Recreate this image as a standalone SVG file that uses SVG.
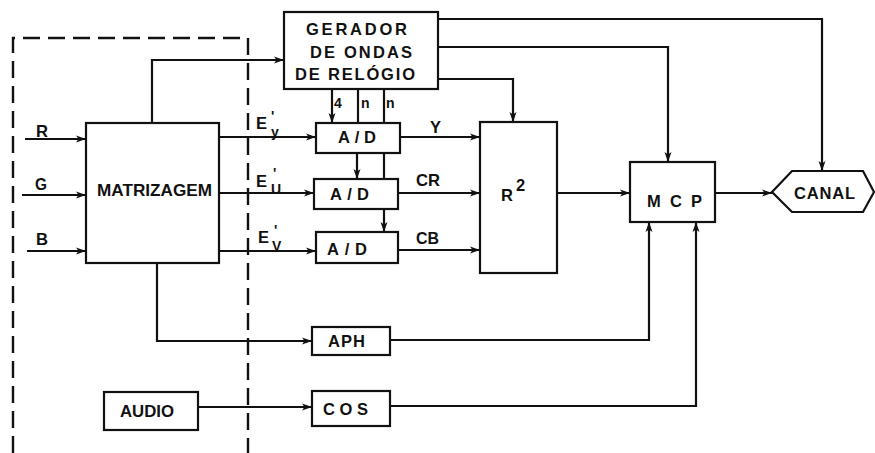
<svg xmlns="http://www.w3.org/2000/svg" width="875" height="453" viewBox="0 0 875 453">
<style>
.box{fill:#fff;stroke:#111;stroke-width:2.2}
.c{fill:none;stroke:#111;stroke-width:2.2}
.ca{fill:none;stroke:#111;stroke-width:2.2;marker-end:url(#ah)}
.dash{fill:none;stroke:#111;stroke-width:2.4;stroke-dasharray:17 8}
text{font-family:"Liberation Sans",Arial,sans-serif;font-weight:bold;fill:#111}
.t{font-size:16.5px}
.s{font-size:14px}
.p{font-size:14px}
.sub{font-size:14px}
</style>
<defs>
<marker id="ah" markerUnits="userSpaceOnUse" markerWidth="11" markerHeight="8" refX="10" refY="4" orient="auto">
<path d="M0,0.5 L10,4 L0,7.5 L2.5,4 z" fill="#111"/>
</marker>
</defs>
<rect width="875" height="453" fill="#fff"/>
<g id="boundary">
<path class="dash" d="M13,453 V38 H248 V453"/>
</g>
<g id="connectors">
<path class="ca" d="M25,139 H86"/>
<path class="ca" d="M22,195 H86"/>
<path class="ca" d="M27,251 H86"/>
<path class="ca" d="M152,123 V60 H284"/>
<path class="ca" d="M219,137 H316"/>
<path class="ca" d="M219,193 H314"/>
<path class="ca" d="M219,251 H316"/>
<path class="ca" d="M332,89 V123"/>
<path class="c" d="M358,89 V123"/>
<path class="c" d="M384,89 V123"/>
<path class="ca" d="M357,153 V179"/>
<path class="c" d="M384,153 V179"/>
<path class="ca" d="M384,209 V232"/>
<path class="ca" d="M400,137 H480"/>
<path class="ca" d="M398,193 H480"/>
<path class="ca" d="M398,250 H480"/>
<path class="ca" d="M438,79 H513 V122"/>
<path class="ca" d="M438,47 H668 V162"/>
<path class="ca" d="M438,19 H822 V171"/>
<path class="ca" d="M557,193 H630"/>
<path class="ca" d="M715,193 H772"/>
<path class="ca" d="M157,263 V341 H312"/>
<path class="ca" d="M390,340 H649 V222"/>
<path class="ca" d="M198,407 H312"/>
<path class="ca" d="M390,406 H696 V222"/>
</g>
<g id="labels">
<text class="t" x="36" y="137" textLength="12" lengthAdjust="spacingAndGlyphs">R</text>
<text class="t" x="35" y="190" textLength="12" lengthAdjust="spacingAndGlyphs">G</text>
<text class="t" x="36" y="245" textLength="12" lengthAdjust="spacingAndGlyphs">B</text>
<text class="t" x="256" y="129">E<tspan class="p" x="271" y="121">'</tspan><tspan class="sub" x="271" y="137">y</tspan></text>
<text class="t" x="256" y="187">E<tspan class="p" x="273" y="178">'</tspan><tspan class="sub" x="271" y="194">U</tspan></text>
<text class="t" x="258" y="243">E<tspan class="p" x="274" y="235">'</tspan><tspan class="sub" x="272" y="251">V</tspan></text>
<text class="s" x="334" y="108">4</text>
<text class="s" x="361" y="108">n</text>
<text class="s" x="386" y="108">n</text>
<text class="t" x="430" y="133">Y</text>
<text class="t" x="416" y="186" textLength="24" lengthAdjust="spacingAndGlyphs">CR</text>
<text class="t" x="416" y="244" textLength="23" lengthAdjust="spacingAndGlyphs">CB</text>
</g>
<g id="matrizagem">
<rect class="box" x="86" y="123" width="133" height="140"/>
<text class="t" x="97" y="196" textLength="115" lengthAdjust="spacingAndGlyphs">MATRIZAGEM</text>
</g>
<g id="gerador">
<rect class="box" x="284" y="12" width="154" height="77"/>
<text class="t" x="306" y="35" textLength="101" lengthAdjust="spacing">GERADOR</text>
<text class="t" x="310" y="58" textLength="102" lengthAdjust="spacing">DE ONDAS</text>
<text class="t" x="295" y="80" textLength="120" lengthAdjust="spacing">DE RELÓGIO</text>
</g>
<g id="ad1">
<rect class="box" x="316" y="123" width="84" height="30"/>
<text class="t" x="338" y="143" textLength="38" lengthAdjust="spacing">A/D</text>
</g>
<g id="ad2">
<rect class="box" x="314" y="179" width="84" height="30"/>
<text class="t" x="330" y="200" textLength="39" lengthAdjust="spacing">A/D</text>
</g>
<g id="ad3">
<rect class="box" x="316" y="232" width="82" height="31"/>
<text class="t" x="327" y="255" textLength="40" lengthAdjust="spacing">A/D</text>
</g>
<g id="r2">
<rect class="box" x="480" y="122" width="77" height="151"/>
<text class="t" x="501" y="201">R</text>
<text class="t" x="516" y="191">2</text>
</g>
<g id="mcp">
<rect class="box" x="630" y="162" width="85" height="60"/>
<text class="t" x="647" y="207" textLength="55" lengthAdjust="spacing">MCP</text>
</g>
<g id="canal">
<polygon class="box" points="772,192 792,171 863,171 874,192 863,212 792,212"/>
<text class="t" x="794" y="199" textLength="61" lengthAdjust="spacing">CANAL</text>
</g>
<g id="aph">
<rect class="box" x="312" y="327" width="78" height="28"/>
<text class="t" x="328" y="347" textLength="37" lengthAdjust="spacing">APH</text>
</g>
<g id="cos">
<rect class="box" x="312" y="391" width="78" height="35"/>
<text class="t" x="323" y="415" textLength="45" lengthAdjust="spacing">COS</text>
</g>
<g id="audio">
<rect class="box" x="104" y="392" width="94" height="38"/>
<text class="t" x="120" y="417" textLength="54" lengthAdjust="spacingAndGlyphs">AUDIO</text>
</g>
</svg>
